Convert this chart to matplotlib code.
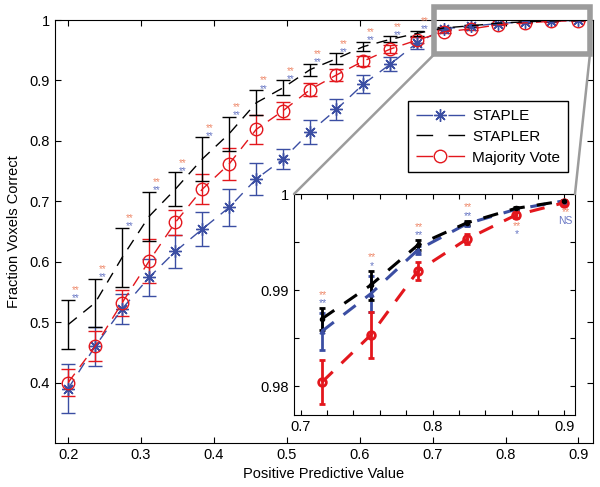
import matplotlib.pyplot as plt
from matplotlib.lines import Line2D
from matplotlib.patches import Rectangle, ConnectionPatch

plt.rcParams['font.family'] = ['Liberation Sans', 'DejaVu Sans']

# positive predictive value levels
ppv = [0.200, 0.237, 0.274, 0.311, 0.347, 0.384, 0.421, 0.458, 0.495, 0.532,
       0.568, 0.605, 0.642, 0.679, 0.716, 0.753, 0.789, 0.826, 0.863, 0.900]

staple = [0.390, 0.460, 0.522, 0.574, 0.617, 0.654, 0.690, 0.737, 0.770, 0.815,
          0.852, 0.894, 0.927, 0.9625, 0.9857, 0.9896, 0.9942, 0.9969, 0.9984, 0.9993]
staple_err = [0.040, 0.032, 0.025, 0.030, 0.027, 0.028, 0.031, 0.026, 0.016, 0.020,
              0.017, 0.015, 0.012, 0.010, 0.0019, 0.0019, 0.0004, 0.0002, 0.0001, 0.0001]

stapler = [0.496, 0.532, 0.607, 0.675, 0.720, 0.770, 0.812, 0.863, 0.888, 0.918,
           0.936, 0.956, 0.968, 0.978, 0.9870, 0.9905, 0.9947, 0.9970, 0.9985, 0.9993]
stapler_err = [0.041, 0.040, 0.049, 0.041, 0.028, 0.036, 0.028, 0.021, 0.012, 0.010,
               0.009, 0.008, 0.005, 0.004, 0.0011, 0.0015, 0.0005, 0.0002, 0.0001, 0.0001]

majority = [0.400, 0.460, 0.532, 0.601, 0.665, 0.720, 0.762, 0.819, 0.850, 0.885,
            0.909, 0.932, 0.952, 0.967, 0.9804, 0.9853, 0.9920, 0.9953, 0.9978, 0.9991]
majority_err = [0.023, 0.025, 0.022, 0.036, 0.020, 0.025, 0.027, 0.024, 0.014, 0.010,
                0.010, 0.008, 0.006, 0.005, 0.0023, 0.0024, 0.0009, 0.0005, 0.0003, 0.0002]

# significance of STAPLER vs majority vote (top) and vs STAPLE (bottom)
sig_mv = ['**'] * 20
sig_staple = ['**'] * 15 + ['*', '**', '**', '*', 'NS']
sig_below = [False] * 18 + [True, True]

BLUE = '#3b4ea3'
RED = '#e3171d'
SIG_RED = '#ee8a6c'
SIG_BLUE = '#6877c4'
GRAY = '#9c9c9c'
ASTER = (8, 2, 0)

fig = plt.figure(figsize=(6, 4.87), dpi=100)
ax = fig.add_axes([0.0917, 0.0903, 0.8967, 0.8686])


def series(a, y, e, color, marker, ms, mew, lw, dashes, cap, elw,
           mfc='none', z=2, first=0):
    x = ppv[first:]
    a.errorbar(x, y[first:], yerr=e[first:], fmt='none', ecolor=color,
               elinewidth=elw, capsize=cap, capthick=elw, zorder=z)
    a.plot(x, y[first:], color=color, lw=lw, dashes=dashes, marker=marker, ms=ms,
           mew=mew, mfc=mfc, mec=color, zorder=z + 0.1)


series(ax, staple, staple_err, BLUE, ASTER, 9, 1, 1, (8, 6), 5, 1)
series(ax, majority, majority_err, RED, 'o', 9, 1, 1, (8, 6), 5, 1)
series(ax, stapler, stapler_err, 'k', None, 0, 1, 1, (8, 6), 5, 1)

for i in range(14):
    ytop = stapler[i] + stapler_err[i] + 0.016
    ax.annotate(sig_mv[i], (ppv[i] + 0.01, ytop), ha='center', va='center',
                fontsize=7, color=SIG_RED)
    ax.annotate(sig_staple[i], (ppv[i] + 0.01, ytop), xytext=(0, -6),
                textcoords='offset points', ha='center', va='center',
                fontsize=7, color=SIG_BLUE)

ax.set_xlim(0.182, 0.92)
ax.set_ylim(0.3, 1.0)
ax.set_xticks([0.2, 0.3, 0.4, 0.5, 0.6, 0.7, 0.8, 0.9])
ax.set_xticklabels(['0.2', '0.3', '0.4', '0.5', '0.6', '0.7', '0.8', '0.9'])
ax.set_yticks([0.4, 0.5, 0.6, 0.7, 0.8, 0.9, 1.0])
ax.set_yticklabels(['0.4', '0.5', '0.6', '0.7', '0.8', '0.9', '1'])
ax.tick_params(direction='in', top=True, right=True, length=4, labelsize=10.5)
ax.set_xlabel('Positive Predictive Value', fontsize=10.5, labelpad=4)
ax.set_ylabel('Fraction Voxels Correct', fontsize=10.5, labelpad=6)

handles = [
    Line2D([], [], color=BLUE, lw=1, dashes=(12, 11), marker=ASTER, ms=9, mew=1),
    Line2D([], [], color='k', lw=1, dashes=(12, 11)),
    Line2D([], [], color=RED, lw=1, dashes=(12, 11), marker='o', ms=9, mew=1, mfc='none'),
]
leg = ax.legend(handles, ['STAPLE', 'STAPLER', 'Majority Vote'], loc='upper left',
                bbox_to_anchor=(0.642, 0.826), fontsize=11, handlelength=3.2,
                handletextpad=0.5, labelspacing=0.45, fancybox=False,
                framealpha=1, borderpad=0.5)
leg.get_frame().set_edgecolor('k')
leg.get_frame().set_linewidth(1)

# zoom box on the main axes
ax.add_patch(Rectangle((0.702, 0.943), 0.2137, 0.079, fill=False, ec=GRAY,
                       lw=4, clip_on=False, zorder=5))

# inset: last six PPV levels
ins = fig.add_axes([0.49, 0.1478, 0.4683, 0.4538])
series(ins, staple, staple_err, BLUE, '^', 3.5, 1, 2.2, (5, 4), 2, 2, mfc=BLUE, first=14)
series(ins, majority, majority_err, RED, 'o', 5.5, 2, 2.2, (5, 4), 2, 2, first=14)
series(ins, stapler, stapler_err, 'k', 'o', 3, 1, 2.2, (5, 4), 2, 2, mfc='k', first=14)

for i in range(14, 20):
    if sig_below[i]:
        ytop = majority[i] - majority_err[i] - 0.0008
    else:
        ytop = stapler[i] + stapler_err[i] + 0.0014
    ins.annotate(sig_mv[i], (ppv[i] + 0.001, ytop), ha='center', va='center',
                 fontsize=7.5, color=SIG_RED)
    ins.annotate(sig_staple[i], (ppv[i] + 0.001, ytop), xytext=(0, -6),
                 textcoords='offset points', ha='center', va='center',
                 fontsize=7.5, color=SIG_BLUE)

ins.set_xlim(0.695, 0.908)
ins.set_ylim(0.977, 1.0)
xt = [0.70, 0.72, 0.74, 0.76, 0.78, 0.80, 0.82, 0.84, 0.86, 0.88, 0.90]
ins.set_xticks(xt)
ins.set_xticklabels(['0.7', '', '', '', '', '0.8', '', '', '', '', '0.9'])
yt = [0.98, 0.985, 0.99, 0.995, 1.0]
ins.set_yticks(yt)
ins.set_yticklabels(['0.98', '', '0.99', '', '1'])
ins.tick_params(direction='in', top=True, right=True, length=3.5, labelsize=10.5)

for xa, xb in [((0.702, 0.943), (0, 1)), ((0.9157, 0.943), (1, 1))]:
    con = ConnectionPatch(xyA=xa, coordsA=ax.transData, xyB=xb,
                          coordsB=ins.transAxes, color=GRAY, lw=1.8, zorder=4)
    fig.add_artist(con)

fig.savefig('out.png', dpi=100)
